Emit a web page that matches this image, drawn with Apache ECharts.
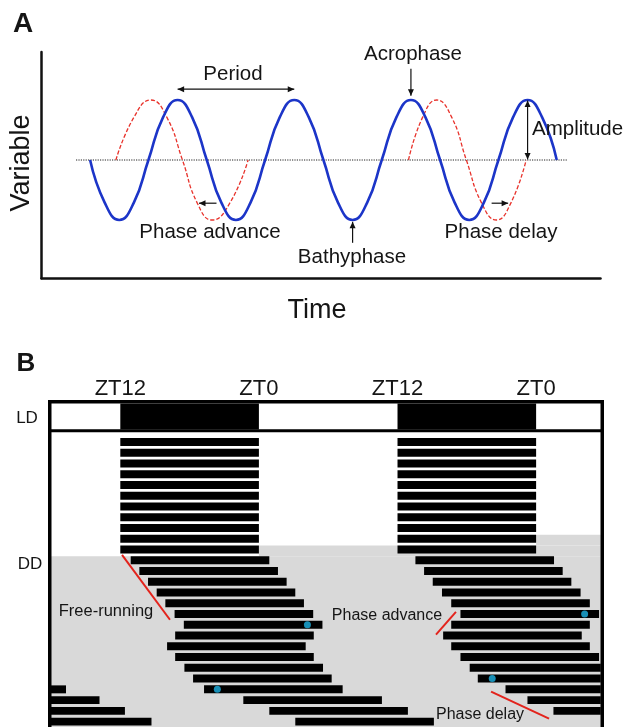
<!DOCTYPE html>
<html><head><meta charset="utf-8">
<script src="https://cdn.jsdelivr.net/npm/echarts@6/dist/echarts.min.js"></script>
<style>html,body{margin:0;padding:0;background:#fff}#c{width:627px;height:727px}</style>
</head><body><div id="c"></div>
<script>
// ---------- Panel A data (time in hours, variable in amplitude units) ----------
const blueTime  = [10,13,16,19,22,25,28,31,34,37,40,43,46,49,52,55,58,61,64,67,70,73,76,79,82,85,88,91,94,97,100,103,106];
const blueValue = [0,-0.71,-1,-0.71,0,0.71,1,0.71, 0,-0.71,-1,-0.71,0,0.71,1,0.71, 0,-0.71,-1,-0.71,0,0.71,1,0.71, 0,-0.71,-1,-0.71,0,0.71,1,0.71, 0];
const advanceTime  = [15.3,19,22.5,25.8,29,32,35.1,38.8,42.5];
const advanceValue = [0,0.71,1,0.71,0,-0.71,-1,-0.71,0];
const delayTime  = [75.5,78.4,81.3,84.4,87.4,90.5,93.6,96.6,99.7];
const delayValue = [0,0.71,1,0.71,0,-0.71,-1,-0.71,0];
const baselineTime = [7.1,108.3];
const baselineValue = [0,0];
// arrows: [x1, y1, x2, y2, head at start, head at end]
const periodArrow    = [28,1.18,52,1.18,1,1];
const acrophaseArrow = [76,1.52,76,1.07,0,1];
const amplitudeArrow = [100,0.99,100,0.01,1,1];
const bathyArrow     = [64,-1.38,64,-1.03,0,1];
const advanceArrow   = [36,-0.72,32.4,-0.72,0,1];
const delayArrow     = [92.6,-0.72,96,-0.72,0,1];

// ---------- Panel B data (hours on a double-plotted ZT scale, rows = days) ----------
const tickHours  = [12,24,36,48];
const tickLabels = ['ZT12','ZT0','ZT12','ZT0'];
const darkStart = [12,36];
const darkEnd   = [24,48];
const activityHours = 12;
const leftOnset  = [12,12,12,12,12,12,12,12,12,12,12,
                    12.9,13.65,14.4,15.15,15.9,16.7,17.5,16.75,16.05,16.75,17.55,18.3,19.25,22.65,24.9,27.15];
const rightOnset = [36,36,36,36,36,36,36,36,36,36,36,
                    37.55,38.3,39.05,39.85,40.65,41.45,40.65,39.95,40.65,41.45,42.25,42.95,45.35,47.25,49.5];
const wrapRow = [23,24,25,26];
const wrapEnd = [7.3,10.2,12.4,14.7];
const greyRowFrom = [9,10,11];
const greyRowTo   = [10,11,27];
const greyHourFrom = [48,24,6];
const dotHour = [28.2,20.4,52.2,44.2];
const dotRow  = [17,23,16,22];
const freeRunLine = [[12.15,10.5],[16.3,16.53]];
const advanceLine = [[41.06,15.79],[39.33,17.92]];
const delayLine   = [[44.1,23.21],[49.12,25.72]];

const HOUR_MIN = 6, HOUR_MAX = 53.6;
const FONT = '"Liberation Sans", Arial, Helvetica, sans-serif';
const INK = '#151515';

const chart = echarts.init(document.getElementById('c'), null, {renderer:'canvas'});

const zip = (a,b) => a.map((v,i)=>[v,b[i]]);

function renderArrow(params, api){
  const p1 = api.coord([api.value(0), api.value(1)]);
  const p2 = api.coord([api.value(2), api.value(3)]);
  const children = [{type:'line', shape:{x1:p1[0],y1:p1[1],x2:p2[0],y2:p2[1]}, style:{stroke:'#111', lineWidth:1.2}}];
  function head(tip, from){
    const dx = tip[0]-from[0], dy = tip[1]-from[1];
    const L = Math.hypot(dx,dy), ux = dx/L, uy = dy/L;
    const len = 6.5, w = 3;
    const bx = tip[0]-ux*len, by = tip[1]-uy*len;
    return {type:'polygon', shape:{points:[[tip[0],tip[1]],[bx-uy*w,by+ux*w],[bx+uy*w,by-ux*w]]}, style:{fill:'#111'}};
  }
  if (api.value(4)) children.push(head(p1,p2));
  if (api.value(5)) children.push(head(p2,p1));
  return {type:'group', children};
}

function clipTo(params, r){
  const cs = params.coordSys;
  return echarts.graphic.clipRectByRect(r, {x:cs.x, y:cs.y, width:cs.width, height:cs.height});
}

function renderBar(params, api){
  const a = api.coord([api.value(0), api.value(2)]);
  const b = api.coord([api.value(1), api.value(2)]);
  const h = api.size([0, 0.74])[1];
  const shape = clipTo(params, {x:a[0], y:a[1]-h/2, width:b[0]-a[0], height:h});
  return shape && {type:'rect', shape, style:{fill:'#000'}};
}

function renderGrey(params, api){
  const a = api.coord([api.value(0), api.value(2)-0.37]);
  const b = api.coord([HOUR_MAX, api.value(3)-0.37]);
  const shape = clipTo(params, {x:a[0], y:a[1], width:b[0]-a[0], height:b[1]-a[1]});
  return shape && {type:'rect', shape, style:{fill:'#d9d9d9'}};
}

function renderDark(params, api){
  const a = api.coord([api.value(0), 1]);
  const b = api.coord([api.value(1), 0]);
  return {type:'rect', shape:{x:a[0], y:a[1], width:b[0]-a[0], height:b[1]-a[1]}, style:{fill:'#000'}};
}

const barData = [];
leftOnset.forEach((s,r)=>barData.push([s, s+activityHours, r]));
rightOnset.forEach((s,r)=>barData.push([s, s+activityHours, r]));
wrapRow.forEach((r,i)=>barData.push([HOUR_MIN, wrapEnd[i], r]));
const greyData = greyRowFrom.map((r,i)=>[greyHourFrom[i], HOUR_MAX, r, greyRowTo[i]]);

function txt(text, x, y, size, opts){
  opts = opts || {};
  return {type:'text', x, y, rotation: opts.rotation || 0, z: 120,
    style:{text, font:(opts.bold?'bold ':'')+size+'px '+FONT, fill:INK,
      align: opts.align || 'center', verticalAlign:'middle'}};
}

const hidden = {show:false};
const option = {
  animation:false,
  backgroundColor:'#fff',
  grid:[
    {left:41.5, top:52, width:559, height:226.2},
    {left:51, top:403.5, width:549.8, height:26},
    {left:51, top:431.2, width:549.8, height:296.2}
  ],
  xAxis:[
    {gridIndex:0, type:'value', min:0, max:115,
      axisLine:{show:true, onZero:false, lineStyle:{color:'#111', width:2.5}},
      axisTick:hidden, axisLabel:hidden, splitLine:hidden},
    {gridIndex:1, type:'value', min:HOUR_MIN, max:HOUR_MAX, interval:6, position:'top',
      axisLine:hidden, axisTick:hidden, splitLine:hidden,
      axisLabel:{show:true, margin:4, fontSize:22, fontFamily:FONT, color:INK,
        formatter:v=>{const i=tickHours.indexOf(v); return i>=0?tickLabels[i]:'';}}},
    {gridIndex:2, type:'value', min:HOUR_MIN, max:HOUR_MAX, show:false}
  ],
  yAxis:[
    {gridIndex:0, type:'value', min:-1.97, max:1.8,
      axisLine:{show:true, onZero:false, lineStyle:{color:'#111', width:2.5}},
      axisTick:hidden, axisLabel:hidden, splitLine:hidden},
    {gridIndex:1, type:'value', min:0, max:1, show:false},
    {gridIndex:2, type:'value', min:-1, max:26.5, inverse:true, show:false}
  ],
  series:[
    {type:'line', xAxisIndex:0, yAxisIndex:0, data:zip(baselineTime, baselineValue), symbol:'none', silent:true,
      lineStyle:{color:'#222', width:1, type:[1.2,1.2]}, z:2},
    {type:'line', xAxisIndex:0, yAxisIndex:0, data:zip(advanceTime, advanceValue), smooth:0.5, symbol:'none', silent:true,
      lineStyle:{color:'#e8322b', width:1.3, type:[4,2]}, z:3},
    {type:'line', xAxisIndex:0, yAxisIndex:0, data:zip(delayTime, delayValue), smooth:0.5, symbol:'none', silent:true,
      lineStyle:{color:'#e8322b', width:1.3, type:[4,2]}, z:3},
    {type:'line', xAxisIndex:0, yAxisIndex:0, data:zip(blueTime, blueValue), smooth:0.5, symbol:'none', silent:true,
      lineStyle:{color:'#1c35c8', width:2.6}, z:4},
    {type:'custom', xAxisIndex:0, yAxisIndex:0, renderItem:renderArrow, silent:true, clip:false, z:5,
      data:[periodArrow, acrophaseArrow, amplitudeArrow, bathyArrow, advanceArrow, delayArrow]},
    {type:'custom', xAxisIndex:1, yAxisIndex:1, renderItem:renderDark, silent:true, z:3,
      data:zip(darkStart, darkEnd)},
    {type:'custom', xAxisIndex:2, yAxisIndex:2, renderItem:renderGrey, silent:true, z:1, data:greyData},
    {type:'custom', xAxisIndex:2, yAxisIndex:2, renderItem:renderBar, silent:true, z:3, data:barData},
    {type:'scatter', xAxisIndex:2, yAxisIndex:2, data:zip(dotHour, dotRow), symbolSize:7, silent:true,
      itemStyle:{color:'#1eb3e3'}, z:6},
    {type:'line', xAxisIndex:2, yAxisIndex:2, data:freeRunLine, symbol:'none', silent:true, lineStyle:{color:'#e3231c', width:2}, z:7},
    {type:'line', xAxisIndex:2, yAxisIndex:2, data:advanceLine, symbol:'none', silent:true, lineStyle:{color:'#e3231c', width:2}, z:7},
    {type:'line', xAxisIndex:2, yAxisIndex:2, data:delayLine, symbol:'none', silent:true, lineStyle:{color:'#e3231c', width:2}, z:7}
  ],
  graphic:[
    {type:'rect', z:100, shape:{x:49.75, y:401.75, width:552.5, height:400}, style:{fill:null, stroke:'#000', lineWidth:3.5}},
    {type:'line', z:100, shape:{x1:48, y1:430.75, x2:604, y2:430.75}, style:{stroke:'#000', lineWidth:3}},
    txt('A', 23, 24, 28, {bold:true}),
    txt('Variable', 22, 163, 27, {rotation:Math.PI/2}),
    txt('Time', 317, 311, 27),
    txt('Period', 233, 74, 20.5),
    txt('Acrophase', 413, 54, 20.5),
    txt('Amplitude', 532, 129, 20.5, {align:'left'}),
    txt('Phase advance', 210, 232, 20.5),
    txt('Bathyphase', 352, 257, 20.5),
    txt('Phase delay', 501, 232, 20.5),
    txt('B', 26, 364, 26, {bold:true}),
    txt('LD', 27, 418, 17),
    txt('DD', 30, 564, 17),
    txt('Free-running', 106, 611, 16.5),
    txt('Phase advance', 387, 616, 16),
    txt('Phase delay', 480, 715, 16)
  ]
};
chart.setOption(option);
</script></body></html>
